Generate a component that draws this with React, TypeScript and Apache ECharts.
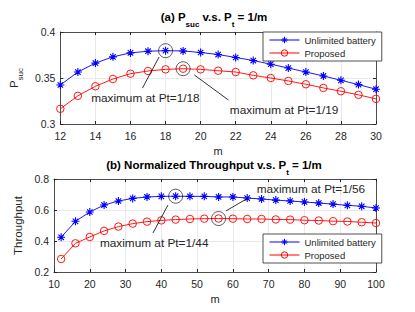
import React, { useEffect, useRef } from "react";
import * as echarts from "echarts";

const mTop = [12, 13, 14, 15, 16, 17, 18, 19, 20, 21, 22, 23, 24, 25, 26, 27, 28, 29, 30];
const psucUnlimited = [0.3424, 0.3565, 0.3662, 0.373, 0.3773, 0.3791, 0.3797, 0.3794, 0.3777, 0.3755, 0.3723, 0.369, 0.365, 0.3608, 0.3565, 0.3522, 0.3475, 0.3428, 0.3378];
const psucProposed = [0.3165, 0.3306, 0.341, 0.3489, 0.3547, 0.3576, 0.3594, 0.3601, 0.3594, 0.3579, 0.3565, 0.3529, 0.35, 0.3468, 0.3432, 0.3392, 0.3356, 0.3317, 0.3273];

const mBot = [12, 16, 20, 24, 28, 32, 36, 40, 44, 48, 52, 56, 60, 64, 68, 72, 76, 80, 84, 88, 92, 96, 100];
const thrUnlimited = [0.424, 0.527, 0.587, 0.632, 0.658, 0.675, 0.684, 0.688, 0.689, 0.688, 0.688, 0.684, 0.684, 0.677, 0.671, 0.664, 0.658, 0.652, 0.645, 0.638, 0.63, 0.624, 0.613];
const thrProposed = [0.284, 0.385, 0.426, 0.465, 0.493, 0.512, 0.525, 0.533, 0.538, 0.542, 0.544, 0.545, 0.544, 0.542, 0.542, 0.539, 0.538, 0.534, 0.532, 0.528, 0.526, 0.521, 0.516];

const seriesNames = ["Unlimited battery", "Proposed"];

// annotation texts and anchor positions in data coordinates
const topNotes = [
  { text: "maximum at Pt=1/18", at: [16.85, 0.3283], from: [16.68, 0.339], to: [17.63, 0.3728] },
  { text: "maximum at Pt=1/19", at: [24.76, 0.3152], from: [21.59, 0.326], to: [19.64, 0.3533] },
];
const botNotes = [
  { text: "maximum at Pt=1/44", at: [38.0, 0.387], from: [37.67, 0.452], to: [41.86, 0.632] },
  { text: "maximum at Pt=1/56", at: [81.8, 0.735], from: [64.2, 0.677], to: [58.07, 0.594] },
];

const AX = "#262626";
const FONT = "Liberation Sans, Arial, sans-serif";
const ASTERISK = "path://M5,0L5,10M0,5L10,5M1.6,1.6L8.4,8.4M1.6,8.4L8.4,1.6";
const RING = "path://M0,5A5,5,0,1,0,10,5A5,5,0,1,0,0,5Z";

function argmax(a: number[]) {
  let k = 0;
  a.forEach((v, i) => { if (v > a[k]) k = i; });
  return k;
}

function mainX(grid: number, min: number, max: number, interval: number) {
  return {
    type: "value", gridIndex: grid, min, max, interval, position: "bottom",
    name: "m", nameLocation: "middle", nameGap: 21,
    nameTextStyle: { color: AX, fontSize: 11, fontFamily: FONT },
    axisLine: { lineStyle: { color: AX, width: 0.8 } },
    axisTick: { inside: true, length: 3, lineStyle: { color: AX } },
    axisLabel: { color: AX, fontSize: 10.5, fontFamily: FONT, margin: 6 },
    splitLine: { show: true, lineStyle: { color: "#e3e3e3", width: 0.8 } },
  };
}
function boxX(grid: number, min: number, max: number, interval: number) {
  return {
    type: "value", gridIndex: grid, min, max, interval, position: "top",
    axisLine: { lineStyle: { color: AX, width: 0.8 } },
    axisTick: { inside: true, length: 3, lineStyle: { color: AX } },
    axisLabel: { show: false }, splitLine: { show: false },
  };
}
function mainY(grid: number, min: number, max: number, interval: number, name: string, gap: number, rich: any) {
  return {
    type: "value", gridIndex: grid, min, max, interval, position: "left",
    name, nameLocation: "middle", nameGap: gap, nameRotate: 90,
    nameTextStyle: { color: AX, fontSize: 11.5, fontFamily: FONT, rich },
    axisLine: { show: true, lineStyle: { color: AX, width: 0.8 } },
    axisTick: { show: true, inside: true, length: 3, lineStyle: { color: AX } },
    axisLabel: { color: AX, fontSize: 10.5, fontFamily: FONT, margin: 5 },
    splitLine: { show: true, lineStyle: { color: "#e3e3e3", width: 0.8 } },
  };
}
function boxY(grid: number, min: number, max: number, interval: number) {
  return {
    type: "value", gridIndex: grid, min, max, interval, position: "right",
    axisLine: { show: true, lineStyle: { color: AX, width: 0.8 } },
    axisTick: { show: true, inside: true, length: 3, lineStyle: { color: AX } },
    axisLabel: { show: false }, splitLine: { show: false },
  };
}

function lineSeries(name: string, xs: number[], ys: number[], axis: number, blue: boolean) {
  const c = blue ? "#0000ff" : "#ff0000";
  return {
    type: "line", name, xAxisIndex: axis, yAxisIndex: axis,
    data: xs.map((x, i) => [x, ys[i]]),
    symbol: blue ? ASTERISK : RING,
    symbolSize: blue ? 8 : 7.5,
    showAllSymbol: true,
    lineStyle: { color: c, width: 0.9 },
    itemStyle: { color: blue ? c : "rgba(255,255,255,0)", borderColor: c, borderWidth: blue ? 1.1 : 0.9 },
    z: 3,
  };
}

function noteSeries(axis: number, pts: number[][], notes: any[]) {
  return {
    type: "scatter", name: "max" + axis, xAxisIndex: axis, yAxisIndex: axis,
    data: pts, symbol: "circle", symbolSize: 14,
    itemStyle: { color: "rgba(0,0,0,0)", borderColor: "#000", borderWidth: 0.8 },
    z: 4, silent: true,
    markLine: {
      silent: true, symbol: ["none", "arrow"], symbolSize: [0, 7],
      lineStyle: { color: "#000", width: 0.8, type: "solid" },
      label: { show: false },
      data: notes.map((n) => [{ coord: n.from }, { coord: n.to }]),
    },
    markPoint: {
      silent: true, symbol: "circle", symbolSize: 0,
      label: { show: true, position: "inside", color: AX, fontSize: 11.8, fontFamily: FONT },
      data: notes.map((n) => ({ coord: n.at, label: { formatter: n.text } })),
    },
  };
}

const subRich = {
  s: { fontSize: 8, fontFamily: FONT, color: AX, verticalAlign: "bottom", lineHeight: 14, padding: [0, 0, -3, 0] },
};

export default function App() {
  const ref = useRef<HTMLDivElement>(null);
  useEffect(() => {
    if (!ref.current) return;
    const chart = echarts.init(ref.current, undefined, { renderer: "svg" });
    const it = argmax(psucUnlimited), ip = argmax(psucProposed);
    const bt = argmax(thrUnlimited), bp = argmax(thrProposed);
    const titleRich = {
      b: { fontSize: 11.5, fontWeight: "bold", fontFamily: FONT, color: "#000", lineHeight: 14 },
      s: { fontSize: 8, fontWeight: "bold", fontFamily: FONT, color: "#000", verticalAlign: "bottom", lineHeight: 14, padding: [0, 0, -4, 0] },
    };
    const legendCommon = {
      orient: "vertical", left: 263, width: 110,
      data: seriesNames,
      backgroundColor: "#fff", borderColor: AX, borderWidth: 0.8,
      padding: [3, 6, 3, 6], itemGap: 3, itemWidth: 30, itemHeight: 8,
      textStyle: { fontSize: 9.5, fontFamily: FONT, color: AX },
      lineStyle: { width: 1 },
      itemStyle: { borderWidth: 1 },
      selectedMode: false,
    };
    chart.setOption({
      animation: false,
      backgroundColor: "#fff",
      grid: [
        { left: 53, top: 32, width: 323, height: 92 },
        { left: 54, top: 179, width: 322, height: 93 },
      ],
      xAxis: [
        mainX(0, 12, 30, 2), boxX(0, 12, 30, 2),
        mainX(1, 10, 100, 10), boxX(1, 10, 100, 10),
      ],
      yAxis: [
        mainY(0, 0.3, 0.4, 0.05, "{a|P}{s|suc}", 23, { a: { fontSize: 11.5, fontFamily: FONT, color: AX, lineHeight: 14 }, ...subRich }),
        boxY(0, 0.3, 0.4, 0.05),
        mainY(1, 0.2, 0.8, 0.2, "Throughput", 20, {}),
        boxY(1, 0.2, 0.8, 0.2),
      ],
      legend: [
        { ...legendCommon, top: 32 },
        { ...legendCommon, top: 234 },
      ],
      graphic: [
        {
          type: "text", x: 214, y: 17,
          style: { text: "{b|(a) P}{s|suc}{b| v.s. P}{s|t}{b| = 1/m}", rich: titleRich, align: "center", verticalAlign: "middle" },
        },
        {
          type: "text", x: 214, y: 165,
          style: { text: "{b|(b) Normalized Throughput v.s. P}{s|t}{b| = 1/m}", rich: titleRich, align: "center", verticalAlign: "middle" },
        },
      ],
      series: [
        lineSeries(seriesNames[0], mTop, psucUnlimited, 0, true),
        lineSeries(seriesNames[1], mTop, psucProposed, 0, false),
        noteSeries(0, [[mTop[it], psucUnlimited[it]], [mTop[ip], psucProposed[ip]]], topNotes),
        lineSeries(seriesNames[0], mBot, thrUnlimited, 2, true),
        lineSeries(seriesNames[1], mBot, thrProposed, 2, false),
        noteSeries(2, [[mBot[bt], thrUnlimited[bt]], [mBot[bp], thrProposed[bp]]], botNotes),
      ],
    });
    return () => chart.dispose();
  }, []);
  return <div ref={ref} style={{ position: "fixed", left: 0, top: 0, width: 415, height: 312 }} />;
}
